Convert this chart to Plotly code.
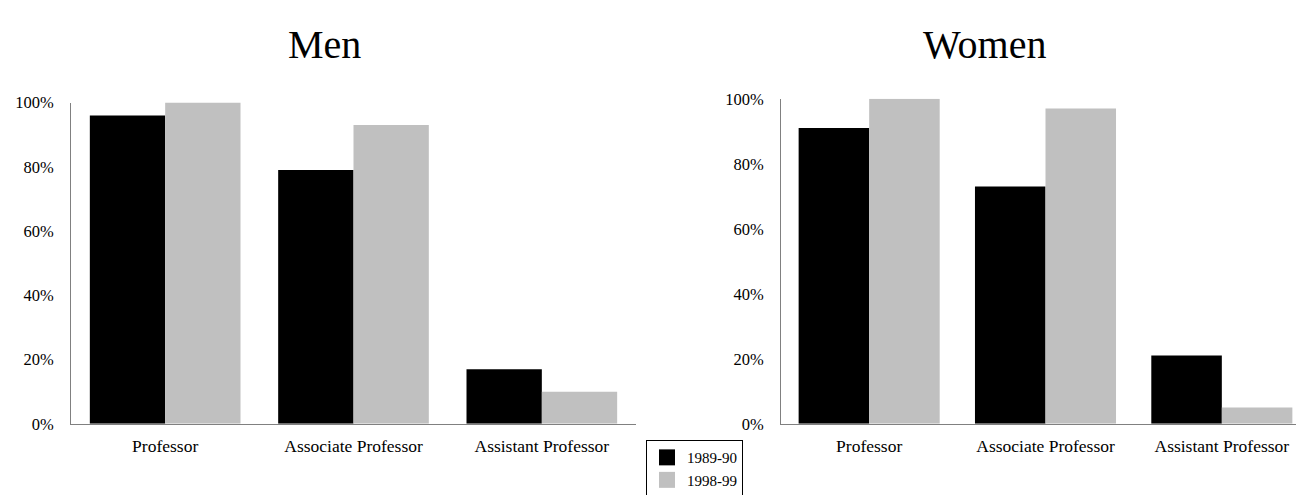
import plotly.graph_objects as go

categories = ["Professor", "Associate Professor", "Assistant Professor"]
series_names = ["1989-90", "1998-99"]
men_1989 = [0.96, 0.79, 0.17]
men_1998 = [1.00, 0.93, 0.10]
women_1989 = [0.91, 0.73, 0.21]
women_1998 = [1.00, 0.97, 0.05]
y_ticks = [0, 0.2, 0.4, 0.6, 0.8, 1.0]
panel_titles = ["Men", "Women"]

colors = ["#000000", "#c0c0c0"]
FONT = "Liberation Serif, Times New Roman, serif"
W, H = 1304, 495

fig = go.Figure()
for i, (name, vals) in enumerate(zip(series_names, [men_1989, men_1998])):
    fig.add_trace(go.Bar(x=categories, y=vals, name=name, marker_color=colors[i],
                         marker_line_width=0, xaxis="x", yaxis="y",
                         legendgroup=name, showlegend=False))
for i, (name, vals) in enumerate(zip(series_names, [women_1989, women_1998])):
    fig.add_trace(go.Bar(x=categories, y=vals, name=name, marker_color=colors[i],
                         marker_line_width=0, xaxis="x2", yaxis="y2",
                         legendgroup=name, showlegend=False))
# legend keys (square swatches)
for i, name in enumerate(series_names):
    fig.add_trace(go.Scatter(x=[None], y=[None], mode="markers", name=name,
                             marker=dict(symbol="square", size=18, color=colors[i]),
                             xaxis="x", yaxis="y", legendgroup=name, showlegend=True,
                             hoverinfo="skip"))


def px_x(v):
    return v / W


def px_y(v):
    return 1 - v / H


line = dict(showline=True, linecolor="#808080", linewidth=1, showgrid=False,
            zeroline=False, ticks="")
xfont = dict(family=FONT, size=17.5, color="#000")
yfont = dict(family=FONT, size=16.5, color="#000")

fig.update_layout(
    width=W, height=H,
    margin=dict(l=0, r=0, t=0, b=0),
    paper_bgcolor="white", plot_bgcolor="white",
    barmode="group", bargap=0.2, bargroupgap=0,
    font=dict(family=FONT, color="#000"),
    xaxis=dict(domain=[px_x(63), px_x(628)], anchor="y", ticklabelstandoff=6,
               tickfont=xfont, **line),
    yaxis=dict(domain=[px_y(423), px_y(89)], anchor="x", range=[0, 1],
               tickvals=y_ticks, tickformat=".0%", ticklabelstandoff=13,
               tickfont=yfont, **line),
    xaxis2=dict(domain=[px_x(773), px_x(1302)], anchor="y2", ticklabelstandoff=6,
                tickfont=xfont, **line),
    yaxis2=dict(domain=[px_y(423), px_y(85)], anchor="x2", range=[0, 1],
                tickvals=y_ticks, tickformat=".0%", ticklabelstandoff=13,
                tickfont=yfont, **line),
    legend=dict(x=px_x(638), y=px_y(440), xanchor="left", yanchor="top",
                bordercolor="#000", borderwidth=1, bgcolor="white",
                tracegroupgap=0, itemsizing="trace",
                font=dict(family=FONT, size=15, color="#000")),
    showlegend=True,
    annotations=[
        dict(text=panel_titles[0], x=px_x(316), y=px_y(28.5), xref="paper", yref="paper",
             xanchor="center", yanchor="middle", showarrow=False,
             font=dict(family=FONT, size=40, color="#000")),
        dict(text=panel_titles[1], x=px_x(976), y=px_y(28.5), xref="paper", yref="paper",
             xanchor="center", yanchor="middle", showarrow=False,
             font=dict(family=FONT, size=40, color="#000")),
    ],
)

fig.write_html("out.html")
